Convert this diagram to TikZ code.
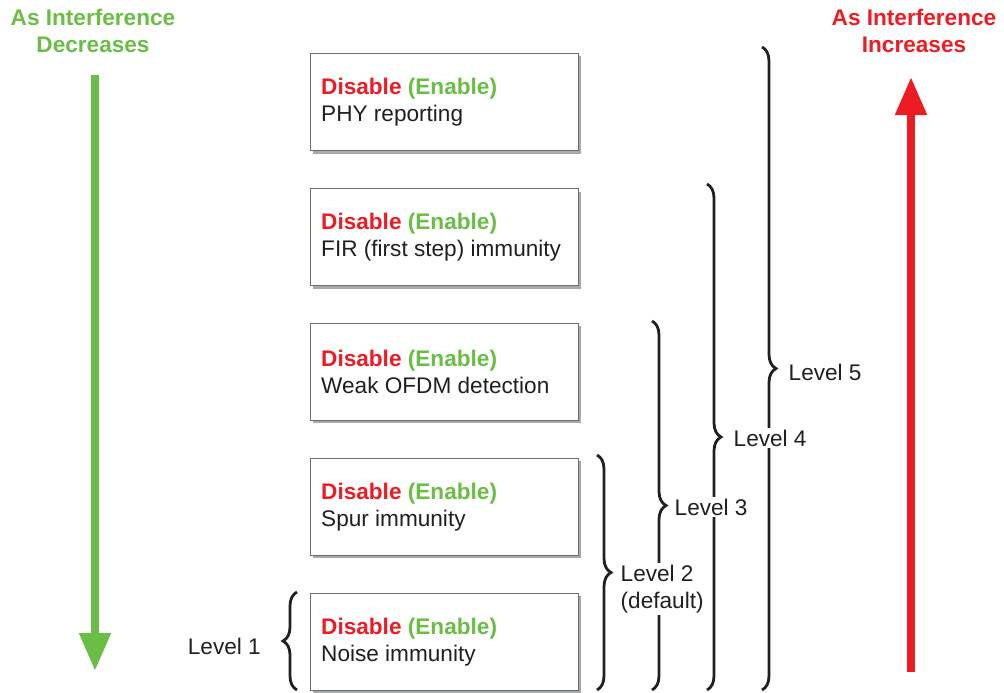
\documentclass[tikz,border=0pt]{standalone}
\usepackage{fontspec}
\setmainfont{Liberation Sans}
\usetikzlibrary{arrows.meta,shadows,decorations.pathreplacing}
\definecolor{ired}{HTML}{ED1C24}
\definecolor{igreen}{HTML}{6ABD45}
\definecolor{itext}{HTML}{231F20}
\definecolor{iborder}{HTML}{6D6E71}
\definecolor{ishadow}{HTML}{A7A9AC}
\begin{document}
\begin{tikzpicture}[x=1pt,y=-1pt,
  txt/.style={font=\fontsize{22.6}{27}\selectfont, text=itext},
  title/.style={font=\fontsize{22.6}{27}\selectfont\bfseries, align=center},
  optbox/.style={draw=iborder, line width=1pt, fill=white, minimum width=268pt, minimum height=97pt,
    drop shadow={shadow xshift=3pt, shadow yshift=-3pt, fill=ishadow, opacity=1}},
  optlabel/.style={txt, anchor=west, align=left, inner sep=0pt},
  lvlbrace/.style={draw=itext, line width=2.8pt, decorate, decoration={brace, amplitude=14pt}},
  lvl/.style={txt, anchor=west, align=left, fill=white, inner sep=1.5pt},
  bigarrow/.style={line width=8pt, -{Triangle[width=30pt,length=38pt]}}]
\useasboundingbox (0,0) rectangle (1004,693);

% boxes
\node[optbox] (b1) at (444,102) {};
\node[optbox] (b2) at (444,237) {};
\node[optbox] (b3) at (444,371.5) {};
\node[optbox] (b4) at (444,506.5) {};
\node[optbox] (b5) at (444,641.5) {};

\newcommand{\de}{{\bfseries\color{ired}Disable} {\bfseries\color{igreen}(Enable)}}
\node[optlabel] (t1) at (321,102.5) {\de\\PHY reporting};
\node[optlabel] (t2) at (321,237.5) {\de\\FIR (first step) immunity};
\node[optlabel] (t3) at (321,372) {\de\\Weak OFDM detection};
\node[optlabel] (t4) at (321,507) {\de\\Spur immunity};
\node[optlabel] (t5) at (321,642) {\de\\Noise immunity};

% braces
\coordinate (l1a) at (297,690); \coordinate (l1b) at (297,592);
\coordinate (l2a) at (597,455); \coordinate (l2b) at (597,690);
\coordinate (l3a) at (652,321); \coordinate (l3b) at (652,690);
\coordinate (l4a) at (707,184); \coordinate (l4b) at (707,690);
\coordinate (l5a) at (762,47); \coordinate (l5b) at (762,690);
\draw[lvlbrace] (l1a) -- (l1b);
\draw[lvlbrace] (l2a) -- (l2b);
\draw[lvlbrace] (l3a) -- (l3b);
\draw[lvlbrace] (l4a) -- (l4b);
\draw[lvlbrace] (l5a) -- (l5b);

\node[txt, anchor=east, inner sep=0pt] (lv1) at (261,646) {Level 1};
\node[lvl] (lv2) at (619,589) {Level 2\\(default)};
\node[lvl] (lv3) at (673,507) {Level 3};
\node[lvl] (lv4) at (732,438) {Level 4};
\node[lvl] (lv5) at (787,372) {Level 5};

% titles and arrows
\node[title, text=igreen] (dec) at (93,31) {As Interference\\Decreases};
\node[title, text=ired] (inc) at (914,31) {As Interference\\Increases};
\coordinate (ga) at (95,75); \coordinate (gb) at (95,671);
\draw[bigarrow, draw=igreen, fill=igreen] (ga) -- (gb);
\coordinate (ra) at (911,672); \coordinate (rb) at (911,77);
\draw[bigarrow, draw=ired, fill=ired] (ra) -- (rb);
\end{tikzpicture}
\end{document}
